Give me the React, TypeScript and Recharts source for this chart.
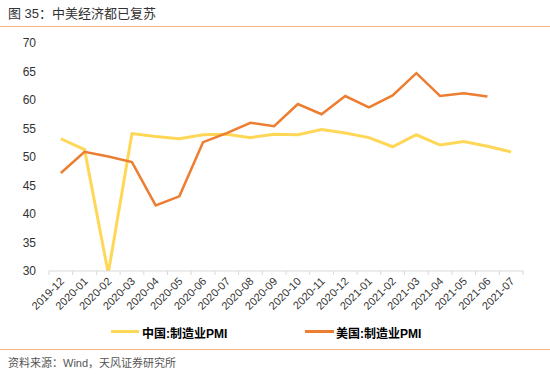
import { LineChart, Line, XAxis, YAxis } from 'recharts'

const months = [
  '2019-12', '2020-01', '2020-02', '2020-03', '2020-04', '2020-05', '2020-06',
  '2020-07', '2020-08', '2020-09', '2020-10', '2020-11', '2020-12', '2021-01',
  '2021-02', '2021-03', '2021-04', '2021-05', '2021-06', '2021-07',
]
const chinaPmi = [
  53.2, 51.3, 29.6, 54.1, 53.6, 53.2, 53.9, 54.0, 53.4, 54.0, 53.9, 54.8, 54.2,
  53.4, 51.8, 53.9, 52.1, 52.7, 51.9, 50.9,
]
const usPmi: (number | null)[] = [
  47.2, 50.9, 50.1, 49.1, 41.5, 43.1, 52.6, 54.2, 56.0, 55.4, 59.3, 57.5, 60.7,
  58.7, 60.8, 64.7, 60.7, 61.2, 60.6, null,
]
const yTicks = [30, 35, 40, 45, 50, 55, 60, 65, 70]

const data = months.map((m, i) => ({ month: m, china: chinaPmi[i], us: usPmi[i] }))

const FONT = '"Liberation Sans", Arial, "Noto Sans CJK SC", sans-serif'
const YELLOW = '#FFD757'
const ORANGE = '#ED7D31'
const HALF = 11.85

const MonthTick = (props: any) => {
  const { x, y, payload, index } = props
  const last = index === months.length - 1
  return (
    <g>
      <line x1={x - HALF} x2={x - HALF} y1={y} y2={y + 4} stroke="#D9D9D9" />
      {last && <line x1={x + HALF} x2={x + HALF} y1={y} y2={y + 4} stroke="#D9D9D9" />}
      <text
        x={0}
        y={0}
        transform={`translate(${x + 4},${y + 11}) rotate(-45)`}
        textAnchor="end"
        fontSize={11}
        fill="#333"
        fontFamily={FONT}
      >
        {payload.value}
      </text>
    </g>
  )
}

export default function App() {
  return (
    <div style={{ position: 'absolute', left: 0, top: 0, width: 550, height: 374, background: '#fff', fontFamily: FONT }}>
      <div style={{ position: 'absolute', left: 8, top: 3, fontSize: 13, color: '#333' }}>
        图 35：中美经济都已复苏
      </div>
      <div style={{ position: 'absolute', left: 0, top: 26, width: 550, height: 1, background: '#F4B183' }} />
      <div style={{ position: 'absolute', left: 0, top: 0 }}>
        <LineChart width={550} height={320} data={data} margin={{ top: 43, right: 27, left: 9, bottom: 0 }}>
          <XAxis
            dataKey="month"
            interval={0}
            padding={{ left: HALF, right: HALF }}
            tickLine={false}
            tickSize={0}
            tickMargin={0}
            height={49}
            stroke="#D9D9D9"
            tick={<MonthTick />}
          />
          <YAxis
            domain={[30, 70]}
            ticks={yTicks}
            allowDataOverflow
            axisLine={false}
            tickLine={false}
            tickSize={0}
            tickMargin={13}
            width={40}
            tick={{ fontSize: 12, fill: '#333', fontFamily: FONT }}
          />
          <Line dataKey="china" stroke={YELLOW} strokeWidth={3} dot={false} isAnimationActive={false} />
          <Line dataKey="us" stroke={ORANGE} strokeWidth={2.5} dot={false} isAnimationActive={false} />
        </LineChart>
      </div>
      <div style={{ position: 'absolute', left: 111, top: 330, width: 28, height: 3, background: YELLOW }} />
      <div style={{ position: 'absolute', left: 142, top: 324, fontSize: 12, fontWeight: 'bold', color: '#000' }}>
        中国:制造业PMI
      </div>
      <div style={{ position: 'absolute', left: 305, top: 330, width: 29, height: 3, background: ORANGE }} />
      <div style={{ position: 'absolute', left: 336, top: 324, fontSize: 12, fontWeight: 'bold', color: '#000' }}>
        美国:制造业PMI
      </div>
      <div style={{ position: 'absolute', left: 0, top: 349, width: 550, height: 1, background: '#F4B183' }} />
      <div style={{ position: 'absolute', left: 8, top: 354, fontSize: 11, color: '#555' }}>
        资料来源：Wind，天风证券研究所
      </div>
    </div>
  )
}
